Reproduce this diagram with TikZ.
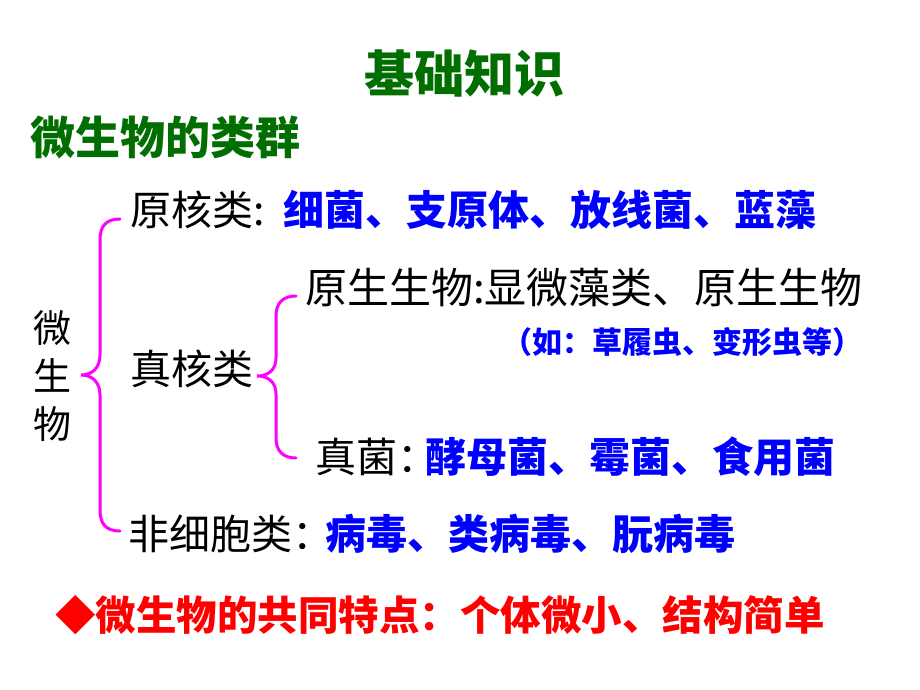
\documentclass[tikz,border=0pt]{standalone}
\usepackage{fontspec}
\newfontfamily\cjk{Noto Sans CJK SC}
\definecolor{tgreen}{RGB}{0,110,0}
\definecolor{tblue}{RGB}{0,0,255}
\definecolor{tred}{RGB}{255,0,0}
\definecolor{tmag}{RGB}{255,0,255}
\tikzset{
  txt/.style={inner sep=0pt, text height=0.88em, text depth=0.12em, anchor=west},
  sz41/.style={font=\cjk\fontsize{41}{41}\selectfont},
  boldtxt/.style={txt, font=\cjk\bfseries\fontsize{41}{41}\selectfont},
  brace/.style={draw=tmag, line width=3pt, line cap=round}
}
\begin{document}
\begin{tikzpicture}[x=1pt,y=-1pt]
\useasboundingbox (0,0) rectangle (920,690);
\fill[white] (0,0) rectangle (920,690);
% titles
\node[inner sep=0pt, text height=0.88em, text depth=0.12em, text=tgreen, font=\cjk\bfseries\fontsize{50}{50}\selectfont] (title) at (464,89) {基础知识};
\node[txt, text=tgreen, font=\cjk\bfseries\fontsize{45}{45}\selectfont] (sub) at (30,151) {微生物的类群};
% left vertical label
\node[inner sep=0pt, align=center, font=\cjk\fontsize{38}{48}\selectfont] (root) at (52,376) {微\\生\\物};
% big brace
\draw[brace] (120,219) .. controls (106,219) and (100,226) .. (100,240) -- (100,355)
  .. controls (100,368) and (92,375) .. (81,375)
  .. controls (92,375) and (100,382) .. (100,395) -- (100,510)
  .. controls (100,524) and (106,531) .. (120,531);
% rows
\node[txt, sz41] (pro) at (130,222) {原核类:};
\node[boldtxt, text=tblue] (prox) at (283,222) {细菌、支原体、放线菌、蓝藻};
\node[txt, sz41] (euk) at (130,381) {真核类};
% small brace
\draw[brace] (296,296) .. controls (283,296) and (276,303) .. (276,316) -- (276,358)
  .. controls (276,370) and (268,376) .. (257,376)
  .. controls (268,376) and (276,382) .. (276,394) -- (276,438)
  .. controls (276,451) and (283,458) .. (296,458);
\node[txt, font=\cjk\fontsize{42}{42}\selectfont] (protist) at (305,300) {原生生物:显微藻类、原生生物};
\node[txt, text=tblue, font=\cjk\bfseries\fontsize{30}{30}\selectfont] (eg) at (502,350) {（如：草履虫、变形虫等）};
\node[txt, sz41] (fungi) at (315,469) {真菌：};
\node[boldtxt, text=tblue] (fungix) at (425,469) {酵母菌、霉菌、食用菌};
\node[txt, sz41] (acell) at (128,546) {非细胞类：};
\node[boldtxt, text=tblue] (acellx) at (325,546) {病毒、类病毒、朊病毒};
% bottom
\node[txt, text=tred, font=\cjk\bfseries\fontsize{40.5}{40.5}\selectfont] (feat) at (55,627) {◆微生物的共同特点：个体微小、结构简单};
\end{tikzpicture}
\end{document}
